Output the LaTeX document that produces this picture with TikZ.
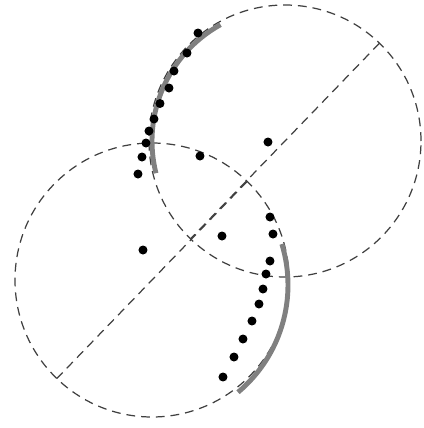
\documentclass[tikz,border=0pt]{standalone}
\usepackage{tikz}
\usetikzlibrary{calc}

\begin{document}
\begin{tikzpicture}[guide/.style={dash pattern=on 5pt off 3.4pt, line width=0.7pt, black!75},
    fitarc/.style={line width=2.8pt, black!50},
    sample/.style={fill=black}]
    \useasboundingbox (0,0) rectangle (8.48,8.56);
    \coordinate (cu) at (5.70,5.74);
    \coordinate (cl) at (3.04,2.96);
    \coordinate (cf) at (2.96,2.86);
    % circles and their diameters
    \draw[guide] (cu) circle[radius=2.72];
    \draw[guide] (cl) circle[radius=2.74];
    \draw[guide] ($(cu)+(46:2.72)$) -- ($(cu)+(226:2.72)$);
    \draw[guide] ($(cl)+(46:2.74)$) -- ($(cl)+(226:2.74)$);
    % fitted arcs
    \draw[fitarc] ($(cu)+(119:2.66)$) arc[start angle=119, end angle=194, radius=2.66];
    \draw[fitarc] ($(cf)+(17:2.80)$) arc[start angle=17, end angle=-50, radius=2.80];
    % samples
    \foreach \p in {(3.96,7.90), (3.74,7.50), (3.48,7.14), (3.38,6.80), (3.20,6.49),
                    (3.08,6.18), (2.98,5.94), (2.92,5.70), (2.84,5.42), (2.76,5.08),
                    (5.40,4.22), (5.46,3.88), (5.40,3.34), (5.32,3.08), (5.26,2.78),
                    (5.18,2.48), (5.04,2.14), (4.86,1.78), (4.68,1.42), (4.46,1.02),
                    (5.36,5.72), (4.00,5.44), (2.86,3.56), (4.44,3.84)}
        \fill[sample] \p circle[radius=0.09];
\end{tikzpicture}
\end{document}
